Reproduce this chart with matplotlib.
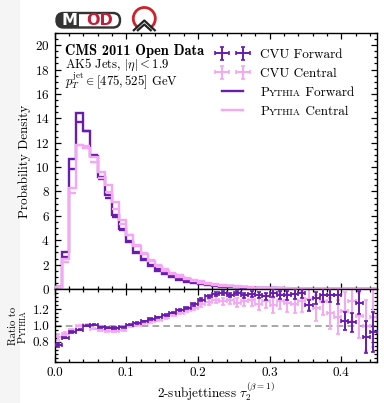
import numpy as np
import matplotlib
matplotlib.use("Agg")
import matplotlib.pyplot as plt
from matplotlib.patches import FancyBboxPatch, Rectangle, Arc
from matplotlib.ticker import MultipleLocator

# ---------------- data ----------------
bin_edges = np.round(np.linspace(0.0, 0.45, 46), 3)

pythia_fwd = [0.20, 3.05, 10.7, 14.4, 13.0, 10.9, 9.2, 7.7, 6.1, 4.9, 3.85, 2.95, 2.35, 1.85, 1.50,
              1.20, 0.95, 0.76, 0.61, 0.49, 0.39, 0.31, 0.25, 0.20, 0.16, 0.13, 0.105, 0.085, 0.069, 0.056,
              0.046, 0.037, 0.030, 0.025, 0.020, 0.017, 0.014, 0.011, 0.009, 0.0075, 0.006, 0.005, 0.004,
              0.0033, 0.0027]
pythia_cen = [0.20, 2.45, 8.3, 11.8, 11.6, 10.8, 9.6, 8.5, 7.1, 5.7, 4.45, 3.55, 2.85, 2.3, 1.85,
              1.5, 1.2, 0.97, 0.78, 0.63, 0.50, 0.40, 0.32, 0.26, 0.21, 0.17, 0.135, 0.11, 0.089, 0.072,
              0.059, 0.048, 0.039, 0.032, 0.026, 0.021, 0.017, 0.014, 0.011, 0.009, 0.0075, 0.006, 0.005,
              0.004, 0.0033]
cvu_fwd = [0.15, 2.6, 9.85, 13.7, 13.0, 11.0, 9.0, 7.45, 5.9, 4.8, 3.9, 3.05, 2.45, 2.0, 1.65,
           1.35, 1.10, 0.90, 0.74, 0.62, 0.51, 0.42, 0.35, 0.28, 0.22, 0.18, 0.144, 0.117, 0.095, 0.076,
           0.064, 0.051, 0.041, 0.035, 0.028, 0.021, 0.019, 0.015, 0.012, 0.010, 0.0064, 0.0052, 0.0051,
           0.0028, 0.0025]
cvu_cen = [0.17, 2.2, 7.9, 11.8, 11.7, 10.4, 9.1, 7.95, 6.6, 5.35, 4.4, 3.6, 2.95, 2.4, 2.0,
           1.65, 1.35, 1.12, 0.93, 0.77, 0.63, 0.52, 0.42, 0.34, 0.27, 0.22, 0.175, 0.144, 0.113, 0.094,
           0.074, 0.062, 0.050, 0.041, 0.034, 0.028, 0.021, 0.018, 0.013, 0.0099, 0.0089, 0.0078, 0.0056,
           0.004, 0.0036]

ratio_fwd = [0.76, 0.85, 0.92, 0.95, 1.00, 1.01, 0.98, 0.97, 0.97, 0.98, 1.01, 1.03, 1.05, 1.08, 1.10,
             1.13, 1.16, 1.19, 1.22, 1.26, 1.32, 1.36, 1.39, 1.40, 1.38, 1.40, 1.37, 1.39, 1.38, 1.36,
             1.40, 1.38, 1.37, 1.39, 1.40, 1.25, 1.34, 1.38, 1.38, 1.37, 1.06, 1.04, 1.28, 0.86, 0.92]
ratio_fwd_err = [0.03, 0.01, 0.008, 0.006, 0.006, 0.006, 0.006, 0.006, 0.007, 0.007, 0.008, 0.008, 0.009,
                 0.01, 0.01, 0.011, 0.012, 0.013, 0.014, 0.015, 0.017, 0.019, 0.021, 0.023, 0.025, 0.028,
                 0.03, 0.033, 0.036, 0.04, 0.044, 0.048, 0.053, 0.058, 0.063, 0.07, 0.077, 0.085, 0.093,
                 0.1, 0.11, 0.12, 0.14, 0.2, 0.25]
ratio_cen = [0.86, 0.90, 0.95, 1.00, 1.01, 0.96, 0.94, 0.93, 0.93, 0.94, 0.99, 1.01, 1.03, 1.05, 1.07,
             1.10, 1.13, 1.16, 1.19, 1.22, 1.26, 1.29, 1.32, 1.30, 1.31, 1.28, 1.30, 1.31, 1.27, 1.30,
             1.25, 1.30, 1.28, 1.27, 1.30, 1.33, 1.22, 1.30, 1.15, 1.10, 1.18, 1.30, 1.12, 1.00, 1.10]
ratio_cen_err = [0.04, 0.015, 0.01, 0.008, 0.008, 0.008, 0.009, 0.009, 0.01, 0.01, 0.011, 0.012, 0.013,
                 0.014, 0.015, 0.017, 0.019, 0.021, 0.024, 0.027, 0.03, 0.034, 0.038, 0.043, 0.048, 0.054,
                 0.06, 0.067, 0.075, 0.083, 0.092, 0.1, 0.11, 0.12, 0.13, 0.145, 0.16, 0.175, 0.19, 0.21,
                 0.23, 0.25, 0.28, 0.32, 0.36]

DARK = "#6a1cb0"
PINK = "#f7a6f5"

centers = 0.5 * (bin_edges[:-1] + bin_edges[1:])
halfw = 0.5 * (bin_edges[1:] - bin_edges[:-1])

plt.rcParams.update({
    "font.family": "serif",
    "font.serif": ["cmr10"],
    "mathtext.fontset": "cm",
    "axes.unicode_minus": False,
    "axes.formatter.use_mathtext": True,
    "font.size": 9.5,
})

W, H = 384, 403
fig = plt.figure(figsize=(W / 100, H / 100), dpi=100)


def rect(l, t, r, b):
    return [l / W, 1 - b / H, (r - l) / W, (b - t) / H]


# background / logo layer
lax = fig.add_axes([0, 0, 1, 1], zorder=-5)
lax.set_xlim(0, W)
lax.set_ylim(H, 0)
lax.axis("off")
lax.add_patch(Rectangle((0, 0), 20, H, fc="#f5f5f5", ec="none"))
lax.add_patch(FancyBboxPatch((56, 12.5), 64.5, 15.5, boxstyle="round,pad=0,rounding_size=7.5",
                             fc="#333333", ec="#333333", lw=1.0))
lax.add_patch(FancyBboxPatch((72, 14.2), 46.8, 12.1, boxstyle="round,pad=0,rounding_size=6",
                             fc="white", ec="none"))
lax.add_patch(Rectangle((64, 12.5), 15, 15.5, fc="#333333", ec="none"))
lax.text(69.5, 20.6, "M", color="white", fontsize=11.5, fontweight="bold", family="DejaVu Sans",
         ha="center", va="center")
lax.text(99.5, 20.6, "OD", color="#c41e3a", fontsize=11.5, fontweight="bold", family="DejaVu Sans",
         ha="center", va="center")
lax.add_patch(Arc((144.3, 18.5), 22, 22, theta1=125, theta2=55, color="#d0202a", lw=2.0))
lax.plot([133, 144.3, 155.6], [31, 20.5, 31], color="#222222", lw=1.6, solid_capstyle="butt")
lax.plot([137, 144.3, 151.6], [31, 24.5, 31], color="#222222", lw=1.6, solid_capstyle="butt")

ax = fig.add_axes(rect(54.5, 33, 377, 289))
axr = fig.add_axes(rect(54.5, 289, 377, 362), sharex=ax)

# ---------------- main panel ----------------
ax.stairs(pythia_fwd, bin_edges, color=DARK, lw=1.7, zorder=3)
ax.errorbar(centers, cvu_fwd, xerr=halfw, fmt="none", ecolor=DARK, elinewidth=1.7, zorder=3)
ax.stairs(pythia_cen, bin_edges, color=PINK, lw=1.7, zorder=4)
ax.errorbar(centers, cvu_cen, xerr=halfw, fmt="none", ecolor=PINK, elinewidth=1.7, zorder=4)

ax.set_xlim(0, 0.45)
ax.set_ylim(0, 21)
ax.set_ylabel("Probability Density", fontsize=9.5, labelpad=3)
ax.yaxis.set_major_locator(MultipleLocator(2))
ax.yaxis.set_minor_locator(MultipleLocator(0.5))
ax.xaxis.set_major_locator(MultipleLocator(0.1))
ax.xaxis.set_minor_locator(MultipleLocator(0.02))
ax.tick_params(labelbottom=False)

ax.text(0.033, 0.929, "CMS 2011 Open Data", transform=ax.transAxes, family="cmb10",
        fontsize=10.4, va="center", ha="left")
ax.text(0.033, 0.840, "AK5 Jets, $|\\eta| < 1.9$\n$p_T^{\\mathrm{jet}} \\in [475, 525]$ GeV",
        transform=ax.transAxes, fontsize=9.1, va="center", ha="left", linespacing=0.87)

# ---------------- ratio panel ----------------
axr.axhline(1.0, color="#9a9a9a", ls="--", lw=1.2, dashes=(4, 2.5), zorder=1)
h_cen = axr.errorbar(centers, ratio_cen, xerr=halfw, yerr=ratio_cen_err, fmt="none", ecolor=PINK,
                     elinewidth=1.4, capsize=1.5, capthick=1.2, zorder=2)
h_fwd = axr.errorbar(centers, ratio_fwd, xerr=halfw, yerr=ratio_fwd_err, fmt="none", ecolor=DARK,
                     elinewidth=1.4, capsize=1.5, capthick=1.2, zorder=3)
axr.set_ylim(0.55, 1.45)
axr.yaxis.set_minor_locator(MultipleLocator(0.05))
axr.set_yticks([0.8, 1.0, 1.2])
axr.set_yticklabels(["0.8", "1.0", "1.2"])
axr.set_xticks([0.0, 0.1, 0.2, 0.3, 0.4])
axr.set_xticklabels(["0.0", "0.1", "0.2", "0.3", "0.4"])
axr.xaxis.set_minor_locator(MultipleLocator(0.02))
axr.set_xlim(0, 0.45)
axr.set_xlabel(r"2-subjettiness $\tau_2^{(\beta=1)}$", fontsize=9.5, labelpad=0.8)

for a in (ax, axr):
    a.tick_params(which="both", direction="in", top=True, right=True, labelsize=9.5, width=0.9)
    a.tick_params(which="major", length=4.5)
    a.tick_params(which="minor", length=2.3)
    for s in a.spines.values():
        s.set_linewidth(1.0)

# ratio y label "Ratio to" / small caps "Pythia"
fig.text(13 / W, 1 - 326 / H, "Ratio to", rotation=90, fontsize=7.6, ha="center", va="center")
tp = fig.text(23 / W, 1 - 343 / H, "P", rotation=90, fontsize=7.6, ha="center", va="bottom")
axr.annotate("YTHIA", xy=(1, 1), xycoords=tp, rotation=90, fontsize=5.6, ha="right", va="bottom",
             annotation_clip=False)

# ---------------- legend ----------------
l_pf, = ax.plot([], [], color=DARK, lw=1.7)
l_pc, = ax.plot([], [], color=PINK, lw=1.7)
leg = ax.legend([h_fwd, h_cen, l_pf, l_pc], ["CVU Forward", "CVU Central", "P", "P"],
                loc="upper left", bbox_to_anchor=(0.507, 0.938), frameon=False, numpoints=2,
                handlelength=2.2, handletextpad=1.0, labelspacing=0.5, borderpad=0,
                borderaxespad=0, fontsize=9.5)

# place the small-caps remainder of the Pythia labels after layout is known
fig.canvas.draw()
renderer = fig.canvas.get_renderer()
for txt, rest in ((leg.get_texts()[2], "Forward"), (leg.get_texts()[3], "Central")):
    bb = txt.get_window_extent(renderer)
    xb, yb = txt.get_transform().transform(txt.get_position())
    t_sc = fig.text(bb.x1 / W, yb / H, "YTHIA", fontsize=7.0, ha="left", va="baseline")
    bb2 = t_sc.get_window_extent(renderer)
    fig.text(bb2.x1 / W, yb / H, " " + rest, fontsize=9.5, ha="left", va="baseline")

fig.savefig("out.png", dpi=100)
